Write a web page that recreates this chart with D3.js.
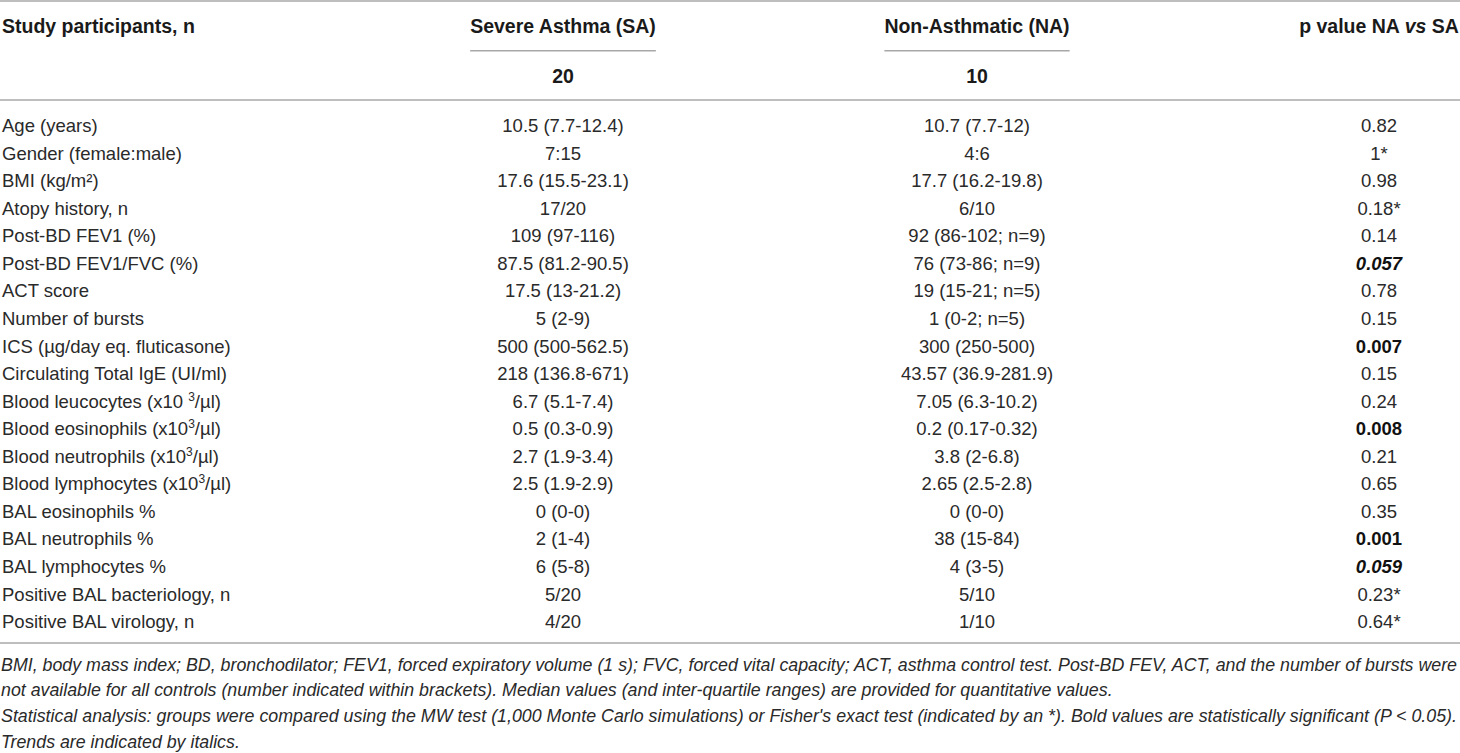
<!DOCTYPE html>
<html lang="en">
  <head>
    <meta charset="UTF-8" />
    <title>Study participants table</title>
    <script src="https://d3js.org/d3.v7.min.js"></script>
    <style>
      body {
        margin: 0;
        background: #fff;
        font-family: "Liberation Sans", Arial, sans-serif;
      }
      .cell { font-size: 18.5px; fill: #2a2a2a; }
      .head { font-size: 19.5px; font-weight: bold; fill: #1a1a1a; }
      .note { font-size: 17.8px; font-style: italic; fill: #2a2a2a; }
      .rule { stroke: #a8a8a8; stroke-width: 1.5; }
    </style>
  </head>
  <body>
    <div id="chart"></div>
    <script>
      // table content ("^x" marks a superscript character)
      const groups = ["Severe Asthma (SA)", "Non-Asthmatic (NA)"];
      const groupN = ["20", "10"];

      const labels = [
        "Age (years)",
        "Gender (female:male)",
        "BMI (kg/m²)",
        "Atopy history, n",
        "Post-BD FEV1 (%)",
        "Post-BD FEV1/FVC (%)",
        "ACT score",
        "Number of bursts",
        "ICS (µg/day eq. fluticasone)",
        "Circulating Total IgE (UI/ml)",
        "Blood leucocytes (x10 ^3/µl)",
        "Blood eosinophils (x10^3/µl)",
        "Blood neutrophils (x10^3/µl)",
        "Blood lymphocytes (x10^3/µl)",
        "BAL eosinophils %",
        "BAL neutrophils %",
        "BAL lymphocytes %",
        "Positive BAL bacteriology, n",
        "Positive BAL virology, n"
      ];

      const saValues = [
        "10.5 (7.7-12.4)", "7:15", "17.6 (15.5-23.1)", "17/20", "109 (97-116)",
        "87.5 (81.2-90.5)", "17.5 (13-21.2)", "5 (2-9)", "500 (500-562.5)",
        "218 (136.8-671)", "6.7 (5.1-7.4)", "0.5 (0.3-0.9)", "2.7 (1.9-3.4)",
        "2.5 (1.9-2.9)", "0 (0-0)", "2 (1-4)", "6 (5-8)", "5/20", "4/20"
      ];

      const naValues = [
        "10.7 (7.7-12)", "4:6", "17.7 (16.2-19.8)", "6/10", "92 (86-102; n=9)",
        "76 (73-86; n=9)", "19 (15-21; n=5)", "1 (0-2; n=5)", "300 (250-500)",
        "43.57 (36.9-281.9)", "7.05 (6.3-10.2)", "0.2 (0.17-0.32)", "3.8 (2-6.8)",
        "2.65 (2.5-2.8)", "0 (0-0)", "38 (15-84)", "4 (3-5)", "5/10", "1/10"
      ];

      const pValues = [
        "0.82", "1*", "0.98", "0.18*", "0.14", "0.057", "0.78", "0.15", "0.007",
        "0.15", "0.24", "0.008", "0.21", "0.65", "0.35", "0.001", "0.059",
        "0.23*", "0.64*"
      ];

      // "b" bold = significant, "bi" bold italic = trend
      const pStyle = [
        "", "", "", "", "", "bi", "", "", "b",
        "", "", "b", "", "", "", "b", "bi", "", ""
      ];

      const notes = [
        "BMI, body mass index; BD, bronchodilator; FEV1, forced expiratory volume (1 s); FVC, forced vital capacity; ACT, asthma control test. Post-BD FEV, ACT, and the number of bursts were",
        "not available for all controls (number indicated within brackets). Median values (and inter-quartile ranges) are provided for quantitative values.",
        "Statistical analysis: groups were compared using the MW test (1,000 Monte Carlo simulations) or Fisher's exact test (indicated by an *). Bold values are statistically significant (P < 0.05).",
        "Trends are indicated by italics."
      ];
      const noteJustify = [true, false, true, false];

      const width = 1460;
      const height = 753;

      const svg = d3
        .select("#chart")
        .append("svg")
        .attr("width", width)
        .attr("height", height);

      // column centres
      const colX = d3
        .scaleOrdinal()
        .domain(["label", "sa", "na", "p"])
        .range([2, 563, 977, 1379]);

      // body rows
      const y = d3.scalePoint().domain(d3.range(labels.length)).range([125.5, 621.7]);

      // header band positions
      const headY = { title: 26.5, rule: 50.7, n: 76 };
      const rules = [1, 100, 643];

      // writes text with ^x superscripts
      function richText(sel, str) {
        const parts = str.split(/(\^.)/).filter((p) => p);
        let back = 0;
        parts.forEach((p) => {
          if (p[0] === "^") {
            sel.append("tspan").attr("dy", -7).attr("font-size", 12).text(p[1]);
            back = 7;
          } else {
            sel.append("tspan").attr("dy", back || null).text(p);
            back = 0;
          }
        });
      }

      // horizontal rules
      svg
        .selectAll("line.full")
        .data(rules)
        .enter()
        .append("line")
        .attr("class", "rule full")
        .attr("x1", 0)
        .attr("x2", width)
        .attr("y1", (d) => d)
        .attr("y2", (d) => d);

      // header
      svg
        .append("text")
        .attr("class", "head")
        .attr("x", colX("label"))
        .attr("y", headY.title)
        .attr("dy", "0.35em")
        .text("Study participants, n");

      ["sa", "na"].forEach((key, i) => {
        const t = svg
          .append("text")
          .attr("class", "head")
          .attr("x", colX(key))
          .attr("y", headY.title)
          .attr("dy", "0.35em")
          .attr("text-anchor", "middle")
          .text(groups[i]);
        const w = t.node().getComputedTextLength();
        svg
          .append("line")
          .attr("class", "rule")
          .attr("x1", colX(key) - w / 2)
          .attr("x2", colX(key) + w / 2)
          .attr("y1", headY.rule)
          .attr("y2", headY.rule);
        svg
          .append("text")
          .attr("class", "head")
          .attr("x", colX(key))
          .attr("y", headY.n)
          .attr("dy", "0.35em")
          .attr("text-anchor", "middle")
          .text(groupN[i]);
      });

      const pHead = svg
        .append("text")
        .attr("class", "head")
        .attr("x", colX("p"))
        .attr("y", headY.title)
        .attr("dy", "0.35em")
        .attr("text-anchor", "middle");
      pHead.append("tspan").text("p value NA ");
      pHead.append("tspan").attr("font-style", "italic").text("vs");
      pHead.append("tspan").text(" SA");

      // body cells
      const rows = svg
        .selectAll("g.row")
        .data(labels)
        .enter()
        .append("g")
        .attr("class", "row")
        .attr("transform", (d, i) => `translate(0,${y(i)})`);

      rows
        .append("text")
        .attr("class", "cell")
        .attr("x", colX("label"))
        .attr("dy", "0.35em")
        .each(function (d) {
          richText(d3.select(this), d);
        });

      rows
        .append("text")
        .attr("class", "cell")
        .attr("x", colX("sa"))
        .attr("dy", "0.35em")
        .attr("text-anchor", "middle")
        .text((d, i) => saValues[i]);

      rows
        .append("text")
        .attr("class", "cell")
        .attr("x", colX("na"))
        .attr("dy", "0.35em")
        .attr("text-anchor", "middle")
        .text((d, i) => naValues[i]);

      rows
        .append("text")
        .attr("class", "cell")
        .attr("x", colX("p"))
        .attr("dy", "0.35em")
        .attr("text-anchor", "middle")
        .style("font-weight", (d, i) => (pStyle[i].includes("b") ? "bold" : null))
        .style("font-style", (d, i) => (pStyle[i].includes("i") ? "italic" : null))
        .style("fill", (d, i) => (pStyle[i] ? "#111" : null))
        .text((d, i) => pValues[i]);

      // footnotes
      const noteY = d3.scalePoint().domain(d3.range(notes.length)).range([664.5, 741.5]);
      svg
        .selectAll("text.note")
        .data(notes)
        .enter()
        .append("text")
        .attr("class", "note")
        .attr("x", 1)
        .attr("y", (d, i) => noteY(i))
        .attr("dy", "0.35em")
        .attr("textLength", (d, i) => (noteJustify[i] ? 1456 : null))
        .attr("lengthAdjust", "spacing")
        .text((d) => d);
    </script>
  </body>
</html>
